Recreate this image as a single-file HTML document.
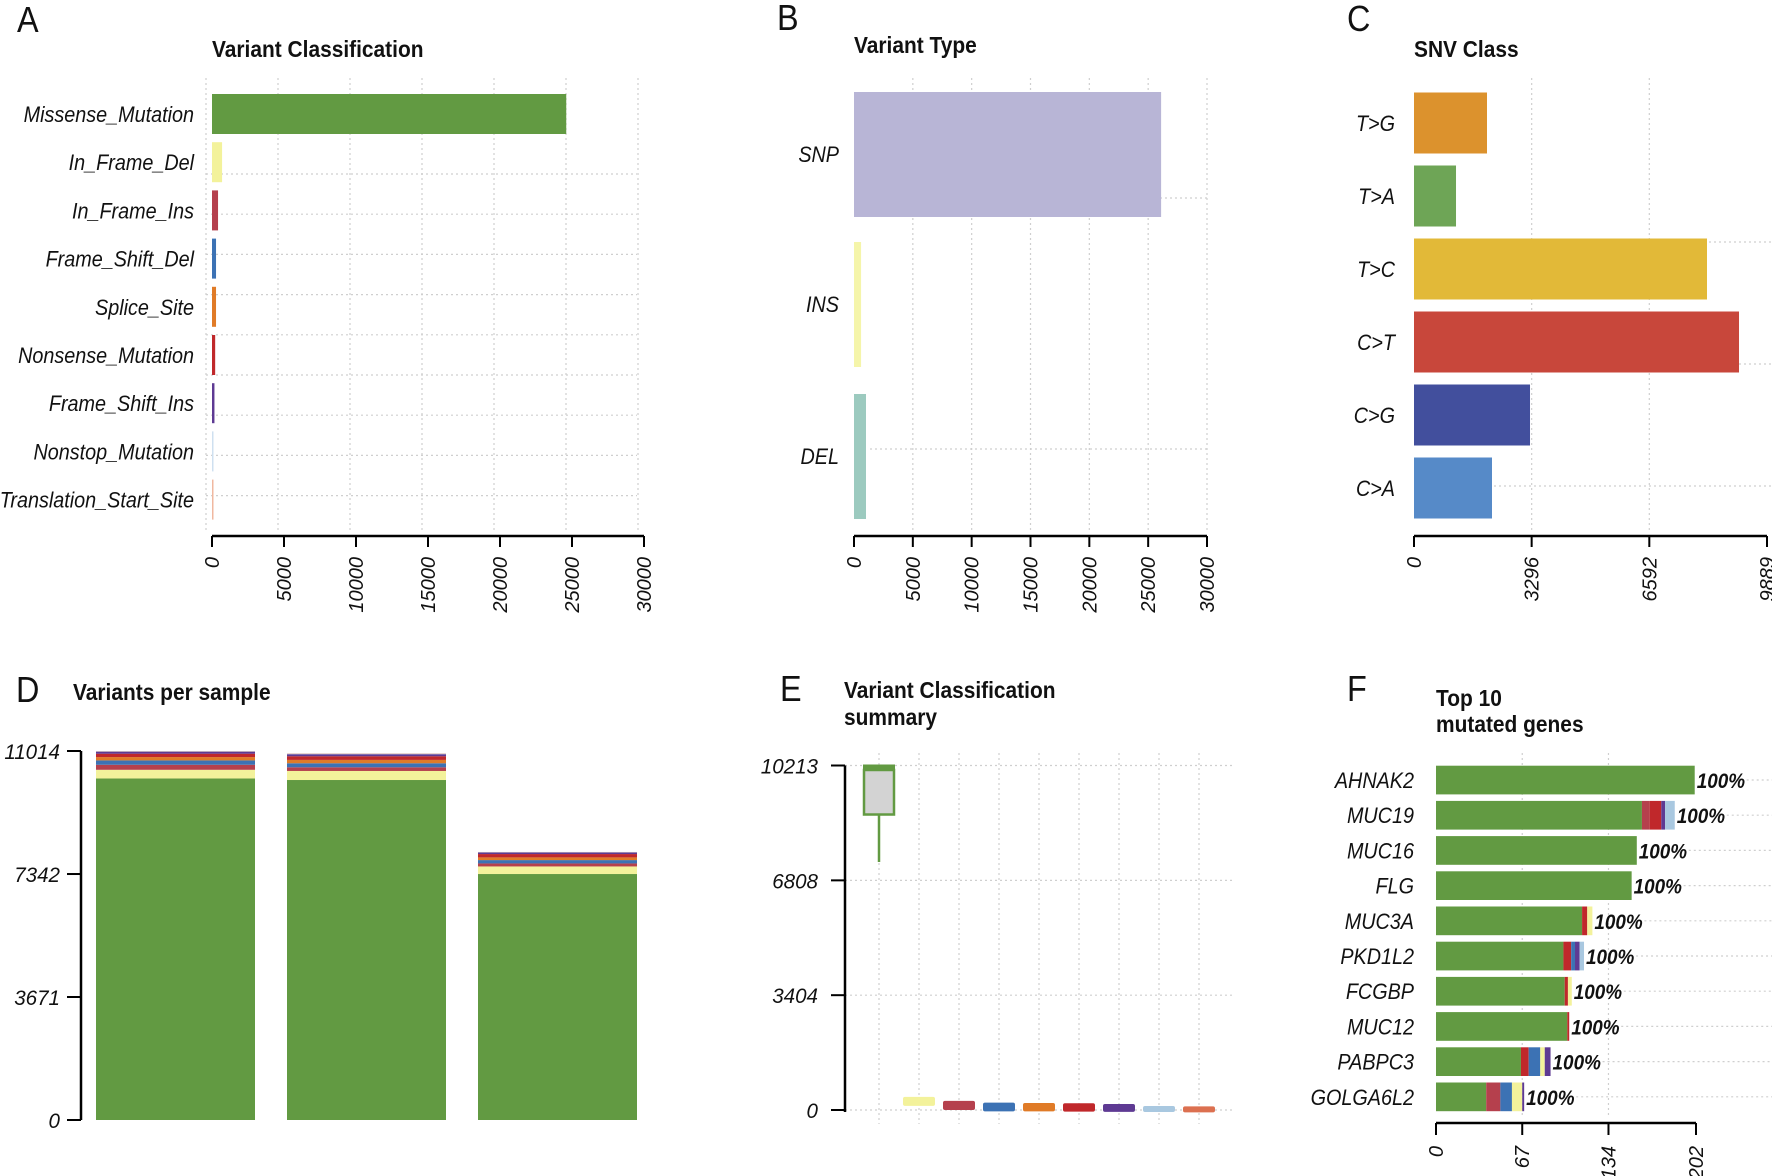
<!DOCTYPE html>
<html><head><meta charset="utf-8"><style>
html,body{margin:0;padding:0;background:#fff}
svg{display:block}
text{font-family:"Liberation Sans",sans-serif}
</style></head><body>
<svg id="fig" width="1772" height="1176" viewBox="0 0 1772 1176" xmlns="http://www.w3.org/2000/svg"></svg>
<script>
// ---- Panel A data
const aCats=["Missense_Mutation","In_Frame_Del","In_Frame_Ins","Frame_Shift_Del","Splice_Site","Nonsense_Mutation","Frame_Shift_Ins","Nonstop_Mutation","Translation_Start_Site"];
const aVals=[24600,700,420,280,280,220,170,60,40];
const aTicks=[0,5000,10000,15000,20000,25000,30000];
// ---- Panel B data
const bCats=["SNP","INS","DEL"];
const bVals=[26100,600,1020];
const bTicks=[0,5000,10000,15000,20000,25000,30000];
// ---- Panel C data
const cCats=["T>G","T>A","T>C","C>T","C>G","C>A"];
const cVals=[2045,1177,8208,9105,3250,2185];
const cTicks=[0,3296,6592,9889];
// ---- Panel D data (per class, per sample)
const dMissense=[10193,10148,7342];
const dInFrameDel=[260,270,226];
const dInFrameIns=[150,110,90];
const dFrameShiftDel=[130,120,100];
const dSplice=[100,100,80];
const dNonsense=[100,110,100];
const dFrameShiftIns=[60,60,45];
const dNonstop=[15,15,12];
const dTSS=[6,7,5];
const dTicks=[0,3671,7342,11014];
// ---- Panel E data
const eQ1=[8760,180,60,20,20,10,5,0,0];
const eMed=[10150,250,130,90,80,70,60,30,25];
const eQ3=[10080,330,210,160,150,140,120,60,50];
const eLow=[7352,180,60,20,20,10,5,0,0];
const eHigh=[10213,330,210,160,150,140,120,60,50];
const eTicks=[0,3404,6808,10213];
// ---- Panel F data
const fGenes=["AHNAK2","MUC19","MUC16","FLG","MUC3A","PKD1L2","FCGBP","MUC12","PABPC3","GOLGA6L2"];
const fMissense=[201,160,156,152,113.5,99,100,102,66,39];
const fInFrameIns=[0,6,0,0,0,0,0,0,0,11];
const fNonsense=[0,9,0,0,4,6,2.5,1.5,6,0];
const fFrameShiftDel=[0,0,0,0,0,3,0,0,9,9];
const fInFrameDel=[0,0,0,0,4,0,3,0,3.5,8];
const fFrameShiftIns=[0,3,0,0,0,3.5,0,0,4.5,1.5];
const fNonstop=[0,7.5,0,0,0,3.5,0,0,0,0];
const fPct=["100%","100%","100%","100%","100%","100%","100%","100%","100%","100%"];
const fTicks=[0,67,134,202];

const C={mis:"#629a42",ifd:"#f3f29b",ifi:"#b5404d",fsd:"#3c72b4",spl:"#e07b27",non:"#c0282b",fsi:"#5e3a93",nst:"#a9c8e0",tss:"#dc7050"};
const aCols=[C.mis,C.ifd,C.ifi,C.fsd,C.spl,C.non,C.fsi,"#cfe0f0","#f0b8a0"];
const svg=document.getElementById('fig');
const NS="http://www.w3.org/2000/svg";
function mk(tag,attrs){const e=document.createElementNS(NS,tag);for(const k in attrs)e.setAttribute(k,attrs[k]);svg.appendChild(e);return e;}
function txt(x,y,s,o){o=o||{};const e=document.createElementNS(NS,'text');
 const sx=o.sx||0.9;const rot=o.rot?` rotate(${o.rot})`:'';
 e.setAttribute('transform',`translate(${x},${y})${rot} scale(${sx},1)`);
 e.setAttribute('font-size',o.size||22);
 if(o.italic)e.setAttribute('font-style','italic');
 if(o.bold)e.setAttribute('font-weight','bold');
 e.setAttribute('text-anchor',o.anchor||'start');
 e.setAttribute('fill','#111');e.textContent=s;svg.appendChild(e);return e;}
function dot(x1,y1,x2,y2){return mk('line',{x1,y1,x2,y2,stroke:'#cfcfcf','stroke-width':1.2,'stroke-dasharray':'2,3'});}

// ===== Panel labels & titles
[["A",17,32],["B",777,30],["C",1347,31],["D",16,702],["E",780,701],["F",1347,701]].forEach(p=>{
 const t=txt(p[1],p[2],p[0],{size:36,sx:0.9});
 
 
});
let t;
t=txt(212,57,"Variant Classification",{bold:true,size:23,sx:0.91});


t=txt(854,53,"Variant Type",{bold:true,size:23,sx:0.91});


t=txt(1414,57,"SNV Class",{bold:true,size:23,sx:0.91});


t=txt(73,700,"Variants per sample",{bold:true,size:23,sx:0.91});


t=txt(844,698,"Variant Classification",{bold:true,size:23,sx:0.91});


t=txt(844,725,"summary",{bold:true,size:23,sx:0.91});


t=txt(1436,706,"Top 10",{bold:true,size:23,sx:0.91});


t=txt(1436,732,"mutated genes",{bold:true,size:23,sx:0.91});



// ===== Panel A
const xA=v=>212+v*(644-212)/30000;
const yA=i=>114+48.2*i;
aTicks.forEach(v=>dot(xA(v)-6,78,xA(v)-6,530));
for(let k=0;k<9;k++)dot(206,174+40.2*k,637,174+40.2*k);
aCats.forEach((c,i)=>{
 const r=mk('rect',{x:xA(0),y:yA(i)-20,width:Math.max(1.5,xA(aVals[i])-xA(0)),height:40,fill:aCols[i]});
 
 
 const l=txt(194,yA(i)+8,c,{italic:true,anchor:'end'});
 
 
});
let ax=mk('line',{x1:xA(0),y1:536,x2:xA(30000),y2:536,stroke:'#000','stroke-width':2.5});


aTicks.forEach(v=>{mk('line',{x1:xA(v),y1:536,x2:xA(v),y2:547,stroke:'#000','stroke-width':2});
 const l=txt(xA(v)+7,557,String(v),{italic:true,size:20,anchor:'end',rot:-90,sx:1});
 
 });

// ===== Panel B
const xB=v=>854+v*(1207-854)/30000;
const bY=[154,304,456];const bCols=["#b8b5d6","#f5f5aa","#9ccabf"];
bTicks.forEach(v=>{if(v>0)dot(xB(v),78,xB(v),530);});
dot(1140,198,1207,198);dot(870,449,1207,449);
bCats.forEach((c,i)=>{
 const r=mk('rect',{x:xB(0),y:bY[i]-62,width:xB(bVals[i])-xB(0),height:125,fill:bCols[i]});
 
 
 const l=txt(839,bY[i]+8,c,{italic:true,anchor:'end'});
 
 
});
ax=mk('line',{x1:xB(0),y1:536,x2:xB(30000),y2:536,stroke:'#000','stroke-width':2.5});


bTicks.forEach(v=>{mk('line',{x1:xB(v),y1:536,x2:xB(v),y2:547,stroke:'#000','stroke-width':2});
 const l=txt(xB(v)+7,557,String(v),{italic:true,size:20,anchor:'end',rot:-90,sx:1});
 
 });

// ===== Panel C
const xC=v=>1414+v*(1767-1414)/9889;
const cCols=["#dc922d","#6ea556","#e2b938","#c8473b","#424f9d","#568ac8"];
cTicks.forEach(v=>{if(v>0&&v<9889)dot(xC(v),78,xC(v),530);});
[242,364,486].forEach(y=>dot(1414,y,1772,y));
cCats.forEach((c,i)=>{
 const yc=123+73*i;
 const r=mk('rect',{x:xC(0),y:yc-30.5,width:xC(cVals[i])-xC(0),height:61,fill:cCols[i]});
 
 
 const l=txt(1395,yc+8,c,{italic:true,anchor:'end'});
 
 
});
ax=mk('line',{x1:xC(0),y1:536,x2:xC(9889),y2:536,stroke:'#000','stroke-width':2.5});


cTicks.forEach(v=>{mk('line',{x1:xC(v),y1:536,x2:xC(v),y2:547,stroke:'#000','stroke-width':2});
 const l=txt(xC(v)+7,557,String(v),{italic:true,size:20,anchor:'end',rot:-90,sx:1});
 
 });

// ===== Panel D
const yD=v=>1120-v*369/11014;
const dX=[96,287,478];const dW=159;
const dSeries=[[dMissense,C.mis],[dInFrameDel,C.ifd],[dInFrameIns,C.ifi],[dFrameShiftDel,C.fsd],[dSplice,C.spl],[dNonsense,C.non],[dFrameShiftIns,C.fsi],[dNonstop,C.nst],[dTSS,C.tss]];
dX.forEach((x,s)=>{let cum=0;
 dSeries.forEach((ser,k)=>{const v=ser[0][s];
  const r=mk('rect',{x:x,y:yD(cum+v),width:dW,height:yD(cum)-yD(cum+v),fill:ser[1]});
  
  
  cum+=v;});
});
ax=mk('line',{x1:81,y1:yD(0),x2:81,y2:yD(11014),stroke:'#000','stroke-width':2.5});


dTicks.forEach(v=>{mk('line',{x1:67,y1:yD(v),x2:81,y2:yD(v),stroke:'#000','stroke-width':2});
 const l=txt(60,yD(v)+8,String(v),{italic:true,size:21,anchor:'end',sx:0.98});
 
 });

// ===== Panel E
const yE=v=>1110-v*344.5/10213;
const eX=i=>879+40*i;
const eCols=[C.mis,C.ifd,C.ifi,C.fsd,C.spl,C.non,C.fsi,C.nst,C.tss];
for(let i=0;i<9;i++)dot(eX(i),753,eX(i),1124);
eTicks.forEach(v=>dot(845,yE(v),1232,yE(v)));
eCols.forEach((col,i)=>{
 const cx=eX(i);
 if(i===0){
  const w=mk('line',{x1:cx,y1:yE(eLow[i]),x2:cx,y2:yE(eHigh[i]),stroke:col,'stroke-width':2.5});
  
  
  const b=mk('rect',{x:cx-15,y:yE(eQ3[i]),width:30,height:yE(eQ1[i])-yE(eQ3[i]),fill:'#d3d3d3',stroke:col,'stroke-width':2.5});
  
  
  const m=mk('rect',{x:cx-16,y:yE(eHigh[i])-1,width:32,height:Math.max(5,yE(eQ3[i])-yE(eHigh[i])+1),fill:col});
  
  
 }else{
  const b=mk('rect',{x:cx-16,y:yE(eQ3[i])-2,width:32,height:Math.max(6,yE(eQ1[i])-yE(eQ3[i])+4),fill:col,rx:2});
  
  
 }
});
ax=mk('line',{x1:845,y1:yE(0)+2,x2:845,y2:yE(10213),stroke:'#000','stroke-width':2.5});


eTicks.forEach(v=>{mk('line',{x1:831,y1:yE(v),x2:845,y2:yE(v),stroke:'#000','stroke-width':2});
 const l=txt(818,yE(v)+8,String(v),{italic:true,size:21,anchor:'end',sx:0.98});
 
 });

// ===== Panel F
const xF=v=>1436+v*260/202;
const yF=i=>780+35.2*i;
fTicks.forEach(v=>{if(v>0&&v<202)dot(xF(v),753,xF(v),1118);});
const fSeries=[[fMissense,C.mis],[fInFrameIns,C.ifi],[fNonsense,C.non],[fFrameShiftDel,C.fsd],[fInFrameDel,C.ifd],[fFrameShiftIns,C.fsi],[fNonstop,C.nst]];
fGenes.forEach((g,i)=>{let cum=0;
 fSeries.forEach(ser=>cum+=ser[0][i]);
 dot(xF(cum)+52,yF(i),1772,yF(i));
 cum=0;
 fSeries.forEach((ser,k)=>{const v=ser[0][i];if(v<=0)return;
  const r=mk('rect',{x:xF(cum),y:yF(i)-14.3,width:xF(cum+v)-xF(cum),height:28.7,fill:ser[1]});
  
  
  cum+=v;});
 const p=txt(xF(cum)+2,yF(i)+8,fPct[i],{italic:true,bold:true,size:21,sx:0.9});
 
 
 const l=txt(1414,yF(i)+8,g,{italic:true,anchor:'end'});
 
 
});
ax=mk('line',{x1:xF(0),y1:1123,x2:xF(202),y2:1123,stroke:'#000','stroke-width':2.5});


fTicks.forEach(v=>{mk('line',{x1:xF(v),y1:1123,x2:xF(v),y2:1135,stroke:'#000','stroke-width':2});
 const l=txt(xF(v)+7,1146,String(v),{italic:true,size:20,anchor:'end',rot:-90,sx:1});
 
 });
</script>
</body></html>
